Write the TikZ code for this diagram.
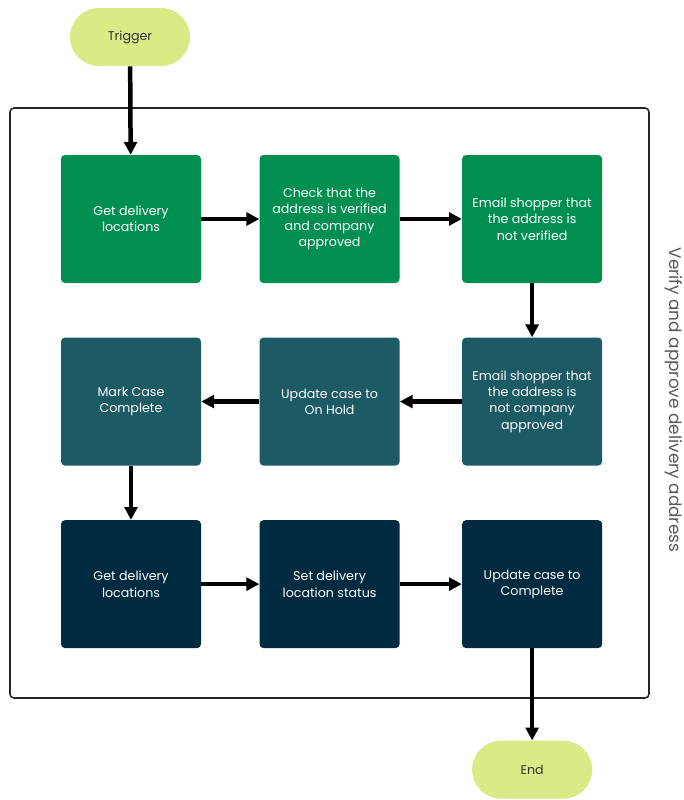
\documentclass[tikz,border=0pt]{standalone}
\usepackage{fontspec}
\setmainfont{Poppins}
\usepackage{xcolor}
\usepackage{tikz}
\usetikzlibrary{arrows.meta,positioning}

\definecolor{rowone}{HTML}{008F51}
\definecolor{rowtwo}{HTML}{1C5A64}
\definecolor{rowthree}{HTML}{002B41}
\definecolor{termfill}{HTML}{D9EA87}

\begin{document}
\begin{tikzpicture}[
  font=\fontsize{9}{11.6}\selectfont,
  stepbox/.style={rounded corners=1mm, align=center, text=white, minimum width=3.5cm, minimum height=3.2cm},
  greenbox/.style={stepbox, fill=rowone},
  tealbox/.style={stepbox, fill=rowtwo},
  navybox/.style={stepbox, fill=rowthree},
  term/.style={rounded corners=0.72cm, fill=termfill, text=black!80, minimum width=3cm, minimum height=1.45cm},
  arrow/.style={-{Triangle[length=3.2mm, width=3.2mm]}, line width=3.2pt}
]
\useasboundingbox (0,0) rectangle (17.075,-20);
% lane
\draw[line width=1.1pt, rounded corners=1mm, black!85] (0.25,-2.7) rectangle (16.225,-17.45);
\node[rotate=-90, text=black!65, font=\fontsize{12}{14}\selectfont] (lane) at (16.85,-10.0) {Verify and approve delivery address};

\node[term] (trigger) at (3.25,-0.925) {Trigger};

\node[greenbox] (get1) at (3.275,-5.475) {Get delivery\\locations};
\node[greenbox, right=1.45cm of get1] (check) {Check that the\\address is verified\\and company\\approved};
\node[greenbox, right=1.55cm of check] (mail1) {Email shopper that\\the address is\\not verified};

\node[tealbox, below=1.35cm of mail1] (mail2) {Email shopper that\\the address is\\not company\\approved};
\node[tealbox, below=1.35cm of check] (hold) {Update case to\\On Hold};
\node[tealbox, below=1.35cm of get1] (mark) {Mark Case\\Complete};

\node[navybox, below=1.35cm of mark] (get2) {Get delivery\\locations};
\node[navybox, below=1.35cm of hold] (status) {Set delivery\\location status};
\node[navybox, below=1.35cm of mail2] (done) {Update case to\\Complete};

\node[term, below=2.3cm of done] (end) {End};

\draw[arrow] (trigger) -- (get1);
\draw[arrow] (get1) -- (check);
\draw[arrow] (check) -- (mail1);
\draw[arrow] (mail1) -- (mail2);
\draw[arrow] (mail2) -- (hold);
\draw[arrow] (hold) -- (mark);
\draw[arrow] (mark) -- (get2);
\draw[arrow] (get2) -- (status);
\draw[arrow] (status) -- (done);
\draw[arrow] (done) -- (end);
\end{tikzpicture}
\end{document}
